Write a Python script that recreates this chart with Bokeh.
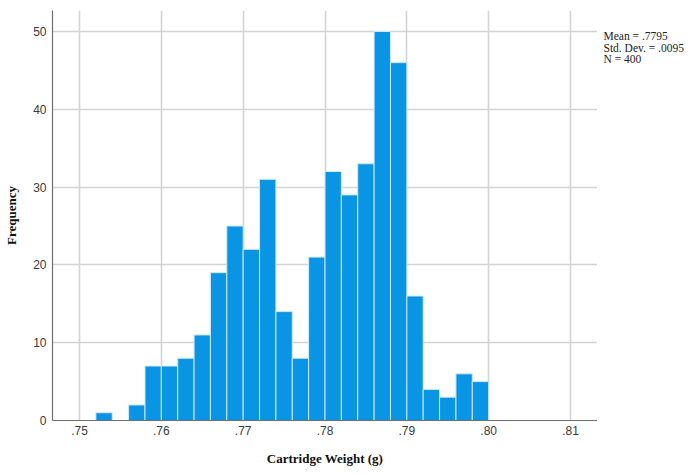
from bokeh.plotting import figure
from bokeh.models import FixedTicker, ColumnDataSource, Range1d
from bokeh.layouts import row
from bokeh.core.properties import value
from bokeh.embed import file_html
from bokeh.resources import INLINE

# Histogram data (bin width 0.002)
bin_left = [0.752, 0.754, 0.756, 0.758, 0.760, 0.762, 0.764, 0.766, 0.768, 0.770,
            0.772, 0.774, 0.776, 0.778, 0.780, 0.782, 0.784, 0.786, 0.788, 0.790,
            0.792, 0.794, 0.796, 0.798]
counts = [1, 0, 2, 7, 7, 8, 11, 19, 25, 22,
          31, 14, 8, 21, 32, 29, 33, 50, 46, 16,
          4, 3, 6, 5]
bin_width = 0.002
x_ticks = [0.75, 0.76, 0.77, 0.78, 0.79, 0.80, 0.81]
x_tick_labels = [".75", ".76", ".77", ".78", ".79", ".80", ".81"]
y_ticks = [0, 10, 20, 30, 40, 50]
stats_lines = ["Mean = .7795", "Std. Dev. = .0095", "N = 400"]

src = ColumnDataSource(dict(
    left=[b for b, c in zip(bin_left, counts) if c > 0],
    right=[b + bin_width for b, c in zip(bin_left, counts) if c > 0],
    top=[c for c in counts if c > 0],
))

TOP, FH, BOT = 10, 410, 54

p = figure(frame_width=545, frame_height=FH, output_backend="svg", toolbar_location=None,
           x_range=Range1d(0.7467, 0.8133), y_range=Range1d(0, 52.7),
           min_border_left=52, min_border_right=0, min_border_top=TOP,
           min_border_bottom=BOT)
p.outline_line_color = None
p.background_fill_color = "white"

p.quad(left="left", right="right", top="top", bottom=0, source=src,
       fill_color="#0a95e4", line_color="#cde9f8", line_width=1)

# axes
for ax in (p.xaxis[0], p.yaxis[0]):
    ax.axis_line_color = "#6e6e6e"
    ax.axis_line_width = 1.2
    ax.major_tick_line_color = None
    ax.minor_tick_line_color = None
    ax.major_tick_out = 0
    ax.major_tick_in = 0
    ax.minor_tick_out = 0
    ax.major_label_text_font = "Liberation Sans"
    ax.major_label_text_font_size = "12px"
    ax.major_label_text_color = "#3a3a3a"
    ax.axis_label_text_font = "Liberation Serif"
    ax.axis_label_text_font_style = "bold"
    ax.axis_label_text_font_size = "13px"
    ax.axis_label_text_color = "#111111"

p.xaxis.ticker = FixedTicker(ticks=x_ticks)
p.xaxis.major_label_overrides = {t: l for t, l in zip(x_ticks, x_tick_labels)}
p.yaxis.ticker = FixedTicker(ticks=y_ticks)
p.xaxis.axis_label = "Cartridge Weight (g)"
p.yaxis.axis_label = "Frequency"
p.xaxis.major_label_standoff = 5
p.yaxis.major_label_standoff = 6
p.xaxis.axis_label_standoff = 13
p.yaxis.axis_label_standoff = 11

p.xgrid.grid_line_color = "#d4d4d4"
p.ygrid.grid_line_color = "#d4d4d4"
p.xgrid.grid_line_width = 1.6
p.ygrid.grid_line_width = 1.6
p.xgrid.level = "underlay"
p.ygrid.level = "underlay"

# side panel with the summary statistics (page-pixel-like coordinates, y from top)
side = figure(frame_width=94, frame_height=FH, output_backend="svg", toolbar_location=None,
              x_range=Range1d(0, 94), y_range=Range1d(TOP + FH, TOP),
              min_border_left=0, min_border_right=0, min_border_top=TOP,
              min_border_bottom=BOT, x_axis_type=None, y_axis_type=None)
side.outline_line_color = None
side.xgrid.visible = False
side.ygrid.visible = False
side.text(x=[6] * len(stats_lines), y=[29.5, 41, 52.5], text=stats_lines,
          text_font=value("Liberation Serif"), text_font_size="11.5px",
          text_color="#222222", text_baseline="top", text_align="left")

open("out.html", "w").write(file_html(row(p, side), INLINE))
